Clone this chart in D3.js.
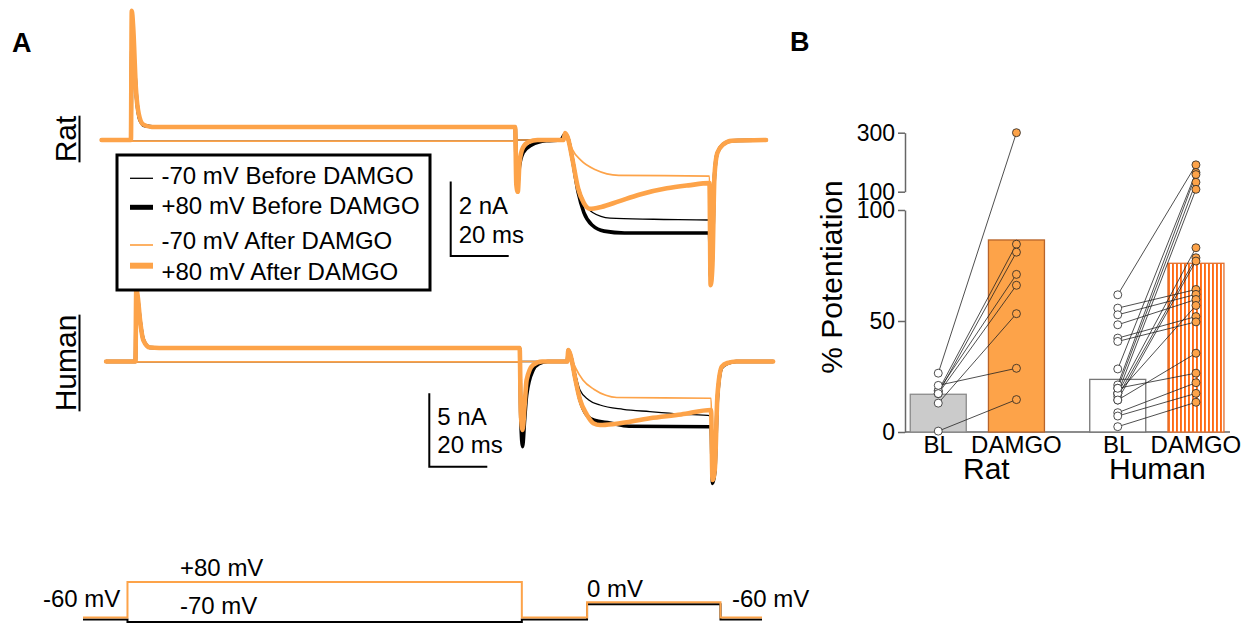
<!DOCTYPE html>
<html><head><meta charset="utf-8">
<script src="https://cdn.jsdelivr.net/npm/d3@7"></script>
<style>
body{margin:0;background:#fff}
svg{display:block}
text{font-family:"Liberation Sans",Arial,sans-serif}
</style>
</head><body>
<svg id="c" width="1258" height="624"></svg>
<script>
// ---------------- DATA ----------------
// Panel B: % potentiation, paired cells
const groups = ["Rat", "Human"];
const conditions = ["BL", "DAMGO"];
const ratBL     = [26.5, 18.5, 17.3, 18.5, 17.3, 13.0, 21.0, 0.4];
const ratDAMGO  = [300, 84.6, 81.0, 71.0, 66.1, 53.3, 28.7, 14.6];
const humanBL    = [61.8, 55.8, 52.8, 48.3, 42.3, 40.8, 28.4, 21.2, 19.7, 17.4, 17.4, 16.0, 14.4, 17.4, 14.4, 19.7, 8.7, 7.2, 2.4];
const humanDAMGO = [191, 64.2, 62.0, 59.7, 52.0, 49.6, 165, 158, 132, 108, 83.0, 78.5, 77.0, 57.0, 35.5, 26.5, 22.2, 17.4, 13.4];
const ratMeans   = [17.0, 86.5];
const humanMeans = [23.7, 76.0];
const lowerTicks = [0, 50, 100];
const upperTicks = [100, 300];

// Panel A: current traces [time ms, current nA]
const ratBlackM70 = [[-10.3,0],[-0.2,0],[0.3,-0.03],[132.5,-0.03],[133,0],[149,0],[149.5,0.15],[150.5,0.05],[152,-0.45],[154,-1.2],[156,-1.65],[159,-1.95],[165,-2.1],[180,-2.13],[199.3,-2.15],[199.7,-3.4],[200.3,-3.0],[201,-0.9],[202,-0.3],[204,-0.1],[207,0],[218.8,0]];
const ratBlackP80 = [[-10.3,0],[-0.2,0],[0.1,2.42],[0.8,2.2],[1.8,1.08],[2.9,0.54],[4.7,0.38],[8,0.35],[132.3,0.35],[132.7,-1.0],[133.2,-1.16],[133.8,-0.7],[135,-0.35],[138,-0.13],[143,-0.02],[148,0],[149.5,0.15],[150.5,0.05],[152,-0.5],[154,-1.4],[156,-1.95],[159,-2.3],[163,-2.45],[170,-2.5],[199.3,-2.5],[199.7,-3.68],[200.3,-3.2],[201,-1.0],[202,-0.35],[204,-0.12],[207,-0.02],[218.8,0]];
const ratOrangeM70 = [[-10.3,0],[-0.2,0],[0.3,-0.03],[132.5,-0.03],[133,0],[149,0],[149.5,0.15],[150.5,0.05],[152,-0.25],[155,-0.55],[160,-0.8],[168,-0.95],[199.3,-0.97],[199.7,-3.2],[200.3,-2.8],[201,-0.9],[202,-0.3],[204,-0.1],[207,0],[218.8,0]];
const ratOrangeP80 = [[-10.3,0],[-0.2,0],[0.1,3.47],[0.6,3.0],[1.5,1.4],[2.5,0.7],[4,0.42],[7,0.35],[132.3,0.35],[132.7,-1.2],[133.2,-1.39],[133.8,-0.6],[135,-0.2],[137,-0.05],[140,0],[149,0],[149.5,0.19],[150.5,0.05],[152,-0.5],[154,-1.3],[156,-1.7],[158,-1.85],[162,-1.8],[168,-1.65],[175,-1.47],[184.6,-1.3],[192,-1.22],[199.3,-1.16],[199.7,-3.9],[200.3,-3.4],[201,-1.0],[202,-0.35],[204,-0.12],[207,-0.02],[218.8,0]];

const humanBlackM70 = [[-10.3,0],[-0.2,0],[0.3,-0.02],[132.5,-0.02],[133,0],[148.7,0],[149.1,0.75],[150,0.3],[151.5,-0.8],[153.1,-1.94],[156,-2.6],[160,-2.96],[168,-3.25],[177.2,-3.41],[188,-3.58],[198.3,-3.7],[198.8,-7.0],[199.6,-6.5],[200.5,-2.5],[202,-0.35],[204,-0.1],[207,0],[219.7,0]];
const humanBlackP80 = [[-10.3,0],[-0.2,0],[0.1,4.85],[0.6,4.3],[1.4,2.8],[2.5,1.5],[4.8,0.95],[8,0.92],[132.3,0.92],[132.7,-4.0],[133.3,-5.8],[134,-4.0],[134.7,-2.3],[136.9,-0.6],[139,-0.15],[142,0],[148.7,0],[149.1,0.78],[150,0.3],[151.5,-1.2],[153.1,-2.6],[155.4,-3.64],[158,-4.0],[163.4,-4.18],[170,-4.4],[198.3,-4.44],[198.8,-8.29],[199.6,-7.5],[200.5,-2.5],[202,-0.4],[204,-0.12],[207,0],[219.7,0]];
const humanOrangeM70 = [[-10.3,0],[-0.2,0],[0.3,-0.02],[132.5,-0.02],[133,0],[148.7,0],[149.1,0.75],[150,0.3],[151.5,-0.4],[154.1,-1.26],[158,-1.9],[162,-2.3],[165.8,-2.45],[198.3,-2.5],[198.8,-6.5],[199.6,-6.0],[200.5,-2.3],[202,-0.35],[204,-0.1],[207,0],[219.7,0]];
const humanOrangeP80 = [[-10.3,0],[-0.2,0],[0.1,4.93],[0.6,4.4],[1.4,2.8],[2.5,1.46],[4.8,0.95],[8,0.92],[132.3,0.92],[132.7,-3.5],[133.3,-4.66],[134,-3.0],[134.7,-1.26],[136.9,-0.24],[140,0],[148.7,0],[149.1,0.78],[150,0.3],[151.5,-1.2],[153.1,-2.6],[155.4,-3.6],[157.7,-4.2],[160,-4.32],[165,-4.25],[177.2,-3.86],[188,-3.6],[198.3,-3.3],[198.8,-8.06],[199.6,-7.3],[200.5,-2.3],[202,-0.35],[204,-0.1],[207,0],[219.7,0]];

// Voltage protocol
const protoTimes  = [-15, 0, 133, 155, 200, 214];
const protoOrange = [-60, 80, -60, 0, -60];
const protoBlack  = [-60, -70, -60, 0, -60];

const legendLabels = ["-70 mV Before DAMGO", "+80 mV Before DAMGO", "-70 mV After DAMGO", "+80 mV After DAMGO"];

// ---------------- STYLE ----------------
const ORANGE = "#fda349";
const svg = d3.select("#c");
const FONT = '"Liberation Sans",Arial,sans-serif';

// ---------------- PANEL A ----------------
svg.append("text").attr("x", 12).attr("y", 52).attr("font-size", 27).attr("font-weight", "bold").text("A");

const traceStyles = [
  {color: "#000", width: 1.3},
  {color: "#000", width: 3.6},
  {color: ORANGE, width: 1.7},
  {color: ORANGE, width: 4.6}
];

function drawTraces(traces, xs, ys) {
  const line = d3.line().x(d => xs(d[0])).y(d => ys(d[1])).curve(d3.curveMonotoneX);
  traces.forEach((tr, i) => {
    svg.append("path").attr("d", line(tr)).attr("fill", "none")
      .attr("stroke", traceStyles[i].color).attr("stroke-width", traceStyles[i].width)
      .attr("stroke-linejoin", "round").attr("stroke-linecap", "round");
  });
}

const ratX = d3.scaleLinear().domain([0, 200]).range([131.5, 711.5]);
const ratY = d3.scaleLinear().domain([0, 2]).range([140, 65.6]);
const humX = d3.scaleLinear().domain([0, 200]).range([136, 716]);
const humY = d3.scaleLinear().domain([0, 5]).range([361.5, 288]);

drawTraces([ratBlackM70, ratBlackP80, ratOrangeM70, ratOrangeP80], ratX, ratY);
drawTraces([humanBlackM70, humanBlackP80, humanOrangeM70, humanOrangeP80], humX, humY);

// Species labels (rotated, underlined)
function speciesLabel(txt, cx, cy) {
  const t = svg.append("text").attr("transform", `translate(${cx},${cy}) rotate(-90)`)
    .attr("text-anchor", "middle").attr("font-size", 30).text(txt);
  const w = t.node().getComputedTextLength();
  svg.append("line").attr("x1", cx + 3.5).attr("x2", cx + 3.5).attr("y1", cy - w / 2).attr("y2", cy + w / 2)
    .attr("stroke", "#000").attr("stroke-width", 2);
}
speciesLabel("Rat", 76, 139);
speciesLabel("Human", 76, 363);

// Scale bars
function scaleBar(x0, y0, h, w, l1, l2) {
  svg.append("path").attr("d", `M${x0},${y0 - h}V${y0}H${x0 + w}`).attr("fill", "none")
    .attr("stroke", "#000").attr("stroke-width", 2);
  svg.append("text").attr("x", x0 + 8).attr("y", y0 - 42).attr("font-size", 24).text(l1);
  svg.append("text").attr("x", x0 + 8).attr("y", y0 - 13.5).attr("font-size", 24).text(l2);
}
scaleBar(450.7, 256, ratY(0) - ratY(2), ratX(20) - ratX(0), "2 nA", "20 ms");
scaleBar(429.3, 466.7, humY(0) - humY(5), humX(20) - humX(0), "5 nA", "20 ms");

// Legend
svg.append("rect").attr("x", 117).attr("y", 155).attr("width", 313).attr("height", 135)
  .attr("fill", "#fff").attr("stroke", "#000").attr("stroke-width", 3);
const legSampleY = [178.3, 207.3, 245, 265.7];
const legTextY = [184, 213.5, 248.5, 279.5];
const legWidths = [1.3, 5, 1.7, 6];
legendLabels.forEach((lab, i) => {
  svg.append("line").attr("x1", 130).attr("x2", 153).attr("y1", legSampleY[i]).attr("y2", legSampleY[i])
    .attr("stroke", traceStyles[i].color).attr("stroke-width", legWidths[i]);
  svg.append("text").attr("x", 161.5).attr("y", legTextY[i]).attr("font-size", 24).text(lab);
});

// Voltage protocol
const pX = d3.scaleLinear().domain([-15, 214]).range([83, 762]);
const pY = d3.scaleLinear().domain([-70, 80]).range([620, 582]);
function protoPts(levels) {
  const pts = levels.map((v, i) => [protoTimes[i], v]);
  pts.push([protoTimes[protoTimes.length - 1], levels[levels.length - 1]]);
  return pts;
}
const pLine = d3.line().x(d => pX(d[0])).y(d => pY(d[1])).curve(d3.curveStepAfter);
svg.append("path").attr("d", pLine(protoPts(protoBlack))).attr("transform", "translate(0,2)")
  .attr("fill", "none").attr("stroke", "#000").attr("stroke-width", 2);
svg.append("path").attr("d", pLine(protoPts(protoOrange)))
  .attr("fill", "none").attr("stroke", ORANGE).attr("stroke-width", 2);
const protoLabels = [["-60 mV", 43, 607], ["+80 mV", 180, 576], ["-70 mV", 180, 614], ["0 mV", 587, 597], ["-60 mV", 732, 607]];
protoLabels.forEach(p => svg.append("text").attr("x", p[1]).attr("y", p[2]).attr("font-size", 24).text(p[0]));

// ---------------- PANEL B ----------------
svg.append("text").attr("x", 790).attr("y", 51).attr("font-size", 27).attr("font-weight", "bold").text("B");

const defs = svg.append("defs");
const pat = defs.append("pattern").attr("id", "stripes").attr("patternUnits", "userSpaceOnUse")
  .attr("x", 1168).attr("width", 4).attr("height", 10);
pat.append("rect").attr("width", 4).attr("height", 10).attr("fill", "#fff");
pat.append("rect").attr("width", 1.9).attr("height", 10).attr("fill", "#ff6a14");

const yLow = d3.scaleLinear().domain([0, 100]).range([432, 210]);
const yUp = d3.scaleLinear().domain([100, 300]).range([191.7, 132.7]);
const yv = v => (v > 100 ? yUp(v) : yLow(v));
const axisX = 905;

function styleAxis(g) {
  g.attr("font-size", 23).attr("font-family", FONT);
  g.selectAll("path,line").attr("stroke", "#666").attr("stroke-width", 1.5);
  g.selectAll("text").attr("fill", "#000");
}
svg.append("g").attr("transform", `translate(${axisX},0)`)
  .call(d3.axisLeft(yLow).tickValues(lowerTicks).tickSize(7).tickSizeOuter(0).tickPadding(3)).call(styleAxis);
svg.append("g").attr("transform", `translate(${axisX},0)`)
  .call(d3.axisLeft(yUp).tickValues(upperTicks).tickSize(7).tickSizeOuter(0).tickPadding(3)).call(styleAxis);

// x baseline
svg.append("line").attr("x1", axisX).attr("x2", 1230).attr("y1", yLow(0)).attr("y2", yLow(0))
  .attr("stroke", "#666").attr("stroke-width", 1.5);

const xGroup = d3.scaleBand().domain(groups).range([887.6, 1246.6]);
const xCond = d3.scalePoint().domain(conditions).range([-39.1, 39.1]);
const cx = (g, c) => xGroup(g) + xGroup.bandwidth() / 2 + xCond(c);
const barW = 56;

const barStyles = {
  "Rat|BL": {fill: "#cbcbcb", stroke: "#8a8a8a"},
  "Rat|DAMGO": {fill: ORANGE, stroke: "#b8642a"},
  "Human|BL": {fill: "#fff", stroke: "#777"},
  "Human|DAMGO": {fill: "url(#stripes)", stroke: "#e07030"}
};
const means = {Rat: ratMeans, Human: humanMeans};
groups.forEach(g => {
  conditions.forEach((c, ci) => {
    const v = means[g][ci];
    const st = barStyles[g + "|" + c];
    svg.append("rect").attr("x", cx(g, c) - barW / 2).attr("y", yv(v))
      .attr("width", barW).attr("height", yLow(0) - yv(v))
      .attr("fill", st.fill).attr("stroke", st.stroke).attr("stroke-width", 1.3);
  });
});

function pairs(g, bl, dm) {
  bl.forEach((b, i) => {
    svg.append("line").attr("x1", cx(g, "BL")).attr("y1", yv(b))
      .attr("x2", cx(g, "DAMGO")).attr("y2", yv(dm[i]))
      .attr("stroke", "#222").attr("stroke-width", 0.8);
  });
  bl.forEach(b => svg.append("circle").attr("cx", cx(g, "BL")).attr("cy", yv(b)).attr("r", 4)
    .attr("fill", "#fff").attr("stroke", "#222").attr("stroke-width", 0.8));
  dm.forEach(d => svg.append("circle").attr("cx", cx(g, "DAMGO")).attr("cy", yv(d)).attr("r", 4)
    .attr("fill", ORANGE).attr("stroke", "#222").attr("stroke-width", 0.8));
}
pairs("Rat", ratBL, ratDAMGO);
pairs("Human", humanBL, humanDAMGO);

// x labels
groups.forEach(g => {
  conditions.forEach(c => {
    svg.append("text").attr("x", cx(g, c)).attr("y", 453).attr("text-anchor", "middle")
      .attr("font-size", 24).text(c);
  });
});
const groupLabelOffset = {Rat: 9, Human: 0.5};
groups.forEach(g => {
  svg.append("text").attr("x", xGroup(g) + xGroup.bandwidth() / 2 + groupLabelOffset[g]).attr("y", 479)
    .attr("text-anchor", "middle").attr("font-size", 30).text(g);
});

// y label
svg.append("text").attr("transform", "translate(842,277) rotate(-90)").attr("text-anchor", "middle")
  .attr("font-size", 30).text("% Potentiation");
</script>
</body></html>
